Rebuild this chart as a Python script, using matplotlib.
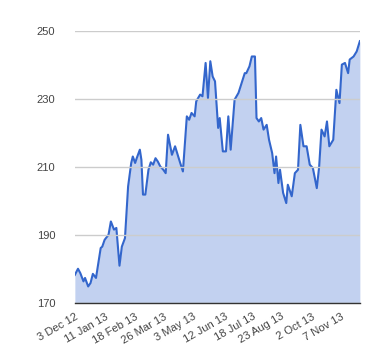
#!/usr/bin/env python3
from datetime import date

import matplotlib
matplotlib.use("Agg")
import matplotlib.pyplot as plt

START = date(2012, 12, 3)

# days since 3 Dec 2012
DAYS = [
    0, 4, 7, 11, 13, 17, 20, 23, 27, 30, 33, 35, 38, 43, 46, 50, 53, 57, 60, 64,
    68, 72, 74, 77, 79, 83, 85, 87, 90, 94, 97, 100, 103, 106, 109, 113, 116, 119,
    124, 128, 134, 138, 143, 146, 149, 153, 155, 160, 163, 167, 170, 173, 176, 179,
    183, 185, 189, 193, 196, 199, 204, 209, 213, 217, 219, 223, 226, 228, 230, 232,
    235, 238, 241, 245, 248, 252, 255, 257, 260, 262, 266, 270, 272, 277, 281, 285,
    288, 292, 296, 300, 304, 309, 312, 315, 319, 322, 325, 330, 334, 338, 341, 345,
    349, 351, 356, 360, 364,
]
PRICES = [
    178.3, 180.1, 178.8, 176.4, 177.4, 174.9, 175.9, 178.6, 177.4, 181.8, 186.2, 186.6,
    188.6, 190.1, 194.0, 191.6, 192.1, 181.0, 186.6, 189.1, 204.3, 211.2, 213.1, 211.2,
    212.6, 215.1, 212.1, 201.9, 201.9, 209.2, 211.4, 210.7, 212.6, 211.6, 210.2, 209.2,
    208.2, 219.5, 213.6, 216.1, 211.6, 208.7, 224.9, 223.9, 225.9, 224.9, 229.3, 231.3,
    230.8, 240.6, 230.3, 241.1, 236.6, 235.2, 221.5, 224.4, 214.6, 214.6, 224.9, 215.1,
    229.8, 231.8, 234.7, 237.6, 237.6, 239.6, 242.5, 242.5, 242.5, 224.4, 223.4, 224.4,
    221.0, 222.4, 218.0, 214.1, 208.2, 213.1, 205.3, 209.2, 202.4, 199.4, 204.8, 201.4,
    208.2, 209.2, 222.4, 216.1, 216.1, 210.7, 209.7, 203.8, 210.1, 221.0, 219.0, 223.4,
    216.1, 218.0, 232.7, 228.8, 240.1, 240.6, 237.6, 241.6, 242.5, 244.0, 247.0,
]

TICK_DATES = [
    date(2012, 12, 3), date(2013, 1, 11), date(2013, 2, 18), date(2013, 3, 26),
    date(2013, 5, 3), date(2013, 6, 12), date(2013, 7, 18), date(2013, 8, 23),
    date(2013, 10, 2), date(2013, 11, 7),
]
TICK_LABELS = [
    "3 Dec 12", "11 Jan 13", "18 Feb 13", "26 Mar 13", "3 May 13",
    "12 Jun 13", "18 Jul 13", "23 Aug 13", "2 Oct 13", "7 Nov 13",
]
Y_TICKS = [170, 190, 210, 230, 250]

LINE = "#3366cc"
FILL = "#c2d1f0"

plt.rcParams["font.family"] = ["Liberation Sans", "DejaVu Sans"]

fig = plt.figure(figsize=(3.8, 3.6), dpi=100)
ax = fig.add_axes([0.197, 0.158, 0.750, 0.756])

ax.fill_between(DAYS, PRICES, 170, color=FILL, linewidth=0)
ax.plot(DAYS, PRICES, color=LINE, linewidth=1.5, solid_joinstyle="round")

ax.set_xlim(0, 364)
ax.set_ylim(170, 250)
ax.set_yticks(Y_TICKS)
ax.set_yticklabels([str(v) for v in Y_TICKS])
ax.set_xticks([(d - START).days for d in TICK_DATES])
ax.set_xticklabels(TICK_LABELS, rotation=30, ha="right", rotation_mode="anchor")
ax.tick_params(axis="both", length=0, labelsize=8, labelcolor="#444444")
ax.tick_params(axis="x", pad=6)
ax.tick_params(axis="y", pad=14)

ax.grid(axis="y", color="#cccccc", linewidth=1)
ax.set_axisbelow(False)
for side in ["top", "right", "left"]:
    ax.spines[side].set_visible(False)
ax.spines["bottom"].set_color("#333333")
ax.spines["bottom"].set_linewidth(1)
ax.spines["bottom"].set_zorder(5)

fig.savefig("out.png", dpi=100)
